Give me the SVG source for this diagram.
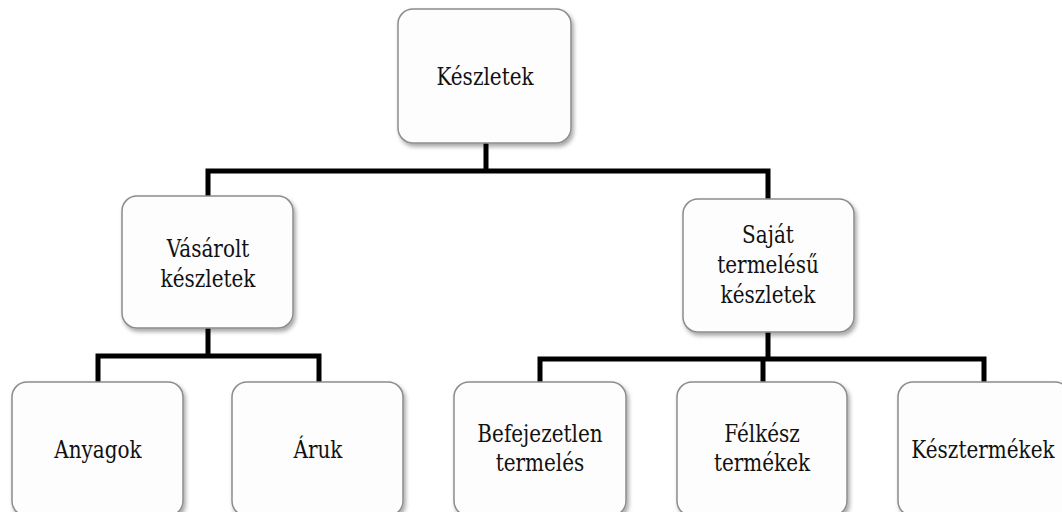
<svg xmlns="http://www.w3.org/2000/svg" width="1062" height="512" viewBox="0 0 1062 512">
  <defs>
    <filter id="shadow" x="-10%" y="-10%" width="125%" height="130%">
      <feDropShadow dx="2" dy="3" stdDeviation="2" flood-color="#000" flood-opacity="0.35"/>
    </filter>
  </defs>
  <style>
    .box { fill: #fdfdfd; stroke: #8c8c8c; stroke-width: 1.5; filter: url(#shadow); }
    .lbl { font-family: "DejaVu Serif", serif; font-size: 25px; fill: #111; text-anchor: middle; }
    .wire { fill: none; stroke: #000; stroke-width: 5; stroke-linejoin: miter; stroke-linecap: butt; }
  </style>
  <rect width="1062" height="512" fill="#fff"/>

  <!-- connectors -->
  <g id="connectors">
    <path class="wire" d="M486,143 V171"/>
    <path class="wire" d="M208,196 V171 H768 V199"/>
    <path class="wire" d="M208,328 V356"/>
    <path class="wire" d="M98,382 V356 H319 V382"/>
    <path class="wire" d="M768,332 V358"/>
    <path class="wire" d="M540,382 V359 H984 V382"/>
    <path class="wire" d="M763,358 V382"/>
  </g>

  <!-- level 0 -->
  <g id="keszletek">
    <rect class="box" x="398" y="9" width="173" height="134" rx="15"/>
    <text class="lbl" transform="translate(485,85) scale(0.8,1)">Készletek</text>
  </g>

  <!-- level 1 -->
  <g id="vasarolt">
    <rect class="box" x="122" y="196" width="171" height="132" rx="15"/>
    <text class="lbl" transform="translate(208,257) scale(0.8,1)">Vásárolt</text>
    <text class="lbl" transform="translate(208,287) scale(0.8,1)">készletek</text>
  </g>
  <g id="sajat">
    <rect class="box" x="683" y="199" width="171" height="133" rx="15"/>
    <text class="lbl" transform="translate(768,243) scale(0.8,1)">Saját</text>
    <text class="lbl" transform="translate(768,273) scale(0.8,1)">termelésű</text>
    <text class="lbl" transform="translate(768,303) scale(0.8,1)">készletek</text>
  </g>

  <!-- level 2 -->
  <g id="anyagok">
    <rect class="box" x="12" y="382" width="171" height="134" rx="15"/>
    <text class="lbl" transform="translate(98,458) scale(0.8,1)">Anyagok</text>
  </g>
  <g id="aruk">
    <rect class="box" x="232" y="382" width="171" height="134" rx="15"/>
    <text class="lbl" transform="translate(318,458) scale(0.8,1)">Áruk</text>
  </g>
  <g id="befejezetlen">
    <rect class="box" x="454" y="382" width="172" height="134" rx="15"/>
    <text class="lbl" transform="translate(540,442) scale(0.8,1)">Befejezetlen</text>
    <text class="lbl" transform="translate(540,471) scale(0.8,1)">termelés</text>
  </g>
  <g id="felkesz">
    <rect class="box" x="677" y="382" width="170" height="134" rx="15"/>
    <text class="lbl" transform="translate(762,442) scale(0.8,1)">Félkész</text>
    <text class="lbl" transform="translate(762,471) scale(0.8,1)">termékek</text>
  </g>
  <g id="kesztermekek">
    <rect class="box" x="898" y="382" width="172" height="134" rx="15"/>
    <text class="lbl" transform="translate(983,458) scale(0.8,1)">Késztermékek</text>
  </g>
</svg>
